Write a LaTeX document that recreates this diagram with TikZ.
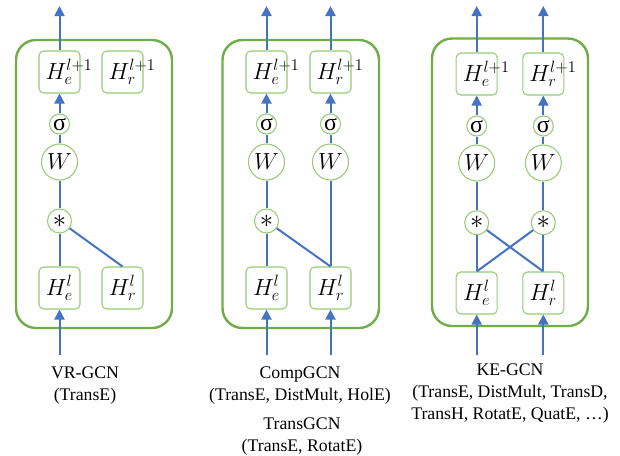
\RequirePackage{fix-cm}
\documentclass[tikz,border=0pt]{standalone}
\usepackage{fontspec}
\setmainfont{Liberation Serif}
\usetikzlibrary{arrows.meta}

\definecolor{panelgreen}{RGB}{112,173,71}
\definecolor{boxgreen}{RGB}{150,203,116}
\definecolor{linkblue}{RGB}{68,114,196}

\tikzset{
  panel/.style={draw=panelgreen, line width=1.8pt, rounded corners=15pt},
  hbox/.style={draw=boxgreen, line width=0.8pt, rounded corners=3.5pt,
    minimum width=30.75pt, minimum height=31.5pt, text width=20.75pt,
    align=center, inner xsep=5pt, inner ysep=0pt, font=\fontsize{17.5}{20}\selectfont},
  sig/.style={circle, draw=boxgreen, line width=0.8pt, minimum size=15pt,
    inner sep=0pt, font=\fontsize{18}{18}\selectfont},
  wnode/.style={circle, draw=boxgreen, line width=0.8pt, minimum size=27pt,
    inner sep=0pt, font=\fontsize{17.5}{20}\selectfont},
  prod/.style={circle, draw=boxgreen, line width=0.8pt, minimum size=18pt,
    inner sep=0pt, font=\fontsize{20}{20}\selectfont},
  link/.style={linkblue, line width=1.5pt},
  flow/.style={link, -{Triangle[length=7.5pt,width=7.5pt]}},
  caption/.style={align=center, anchor=north, inner sep=0pt,
    font=\fontsize{13.3}{16.5}\selectfont}
}

\begin{document}
\begin{tikzpicture}[x=0.75pt, y=-0.75pt]
\useasboundingbox (0,0) rectangle (620,455);

% VR-GCN
\draw[panel] (16,40) rectangle (172,328);
\node[hbox] (he1n) at (59.5,72) {$H_e^{l+1}$};
\node[hbox] (hr1n) at (122.5,72) {$H_r^{l+1}$};
\node[sig] (s1e) at (59.5,124) {σ};
\node[wnode] (w1e) at (59.5,162) {$W$};
\node[prod] (m1e) at (59.5,221) {$\ast$};
\node[hbox] (he1) at (59.5,288) {$H_e^l$};
\node[hbox] (hr1) at (122.5,288) {$H_r^l$};
\coordinate (in1e) at (59.5,355);
\coordinate (out1e) at (59.5,6);

\draw[flow] (in1e) -- (he1);
\draw[link] (he1) -- (m1e);
\draw[link] (hr1.north) -- (m1e);
\draw[link] (m1e) -- (w1e);
\draw[link] (w1e) -- (s1e);
\draw[flow] (s1e) -- (he1n);
\draw[flow] (he1n) -- (out1e);

\node[caption] (cap1) at (85,366) {VR-GCN\\(TransE)};

% CompGCN / TransGCN
\draw[panel] (222.5,40) rectangle (379,328);
\node[hbox] (he2n) at (266.5,72) {$H_e^{l+1}$};
\node[hbox] (hr2n) at (330.5,72) {$H_r^{l+1}$};
\node[sig] (s2e) at (266.5,124) {σ};
\node[sig] (s2r) at (330.5,124) {σ};
\node[wnode] (w2e) at (266.5,162) {$W$};
\node[wnode] (w2r) at (330.5,162) {$W$};
\node[prod] (m2e) at (266.5,221) {$\ast$};
\node[hbox] (he2) at (266.5,288) {$H_e^l$};
\node[hbox] (hr2) at (330.5,288) {$H_r^l$};
\coordinate (in2e) at (266.5,355);
\coordinate (in2r) at (330.5,355);
\coordinate (out2e) at (266.5,6);
\coordinate (out2r) at (330.5,6);

\draw[flow] (in2e) -- (he2);
\draw[flow] (in2r) -- (hr2);
\draw[link] (he2) -- (m2e);
\draw[link] (hr2.north) -- (m2e);
\draw[link] (hr2) -- (w2r);
\draw[link] (m2e) -- (w2e);
\draw[link] (w2e) -- (s2e);
\draw[link] (w2r) -- (s2r);
\draw[flow] (s2e) -- (he2n);
\draw[flow] (s2r) -- (hr2n);
\draw[flow] (he2n) -- (out2e);
\draw[flow] (hr2n) -- (out2r);

\node[caption] (cap2) at (300,366) {CompGCN\\(TransE, DistMult, HolE)};
\node[caption] (cap2b) at (302,417) {TransGCN\\(TransE, RotatE)};

% KE-GCN
\draw[panel] (432,38.5) rectangle (588,326);
\node[hbox] (he3n) at (476.7,74) {$H_e^{l+1}$};
\node[hbox] (hr3n) at (543.3,74) {$H_r^{l+1}$};
\node[sig] (s3e) at (476.7,126) {σ};
\node[sig] (s3r) at (543.3,126) {σ};
\node[wnode] (w3e) at (476.7,163) {$W$};
\node[wnode] (w3r) at (543.3,163) {$W$};
\node[prod] (m3e) at (476.7,222.7) {$\ast$};
\node[prod] (m3r) at (543.3,222.7) {$\ast$};
\node[hbox] (he3) at (476.7,293) {$H_e^l$};
\node[hbox] (hr3) at (543.3,293) {$H_r^l$};
\coordinate (in3e) at (476.7,355);
\coordinate (in3r) at (543.3,355);
\coordinate (out3e) at (476.7,6);
\coordinate (out3r) at (543.3,6);

\draw[flow] (in3e) -- (he3);
\draw[flow] (in3r) -- (hr3);
\draw[link] (he3) -- (m3e);
\draw[link] (hr3) -- (m3r);
\draw[link] (he3.north) -- (m3r);
\draw[link] (hr3.north) -- (m3e);
\draw[link] (m3e) -- (w3e);
\draw[link] (m3r) -- (w3r);
\draw[link] (w3e) -- (s3e);
\draw[link] (w3r) -- (s3r);
\draw[flow] (s3e) -- (he3n);
\draw[flow] (s3r) -- (hr3n);
\draw[flow] (he3n) -- (out3e);
\draw[flow] (hr3n) -- (out3r);

\node[caption] (cap3) at (510,363) {KE-GCN\\(TransE, DistMult, TransD,\\TransH, RotatE, QuatE, …)};
\end{tikzpicture}
\end{document}
